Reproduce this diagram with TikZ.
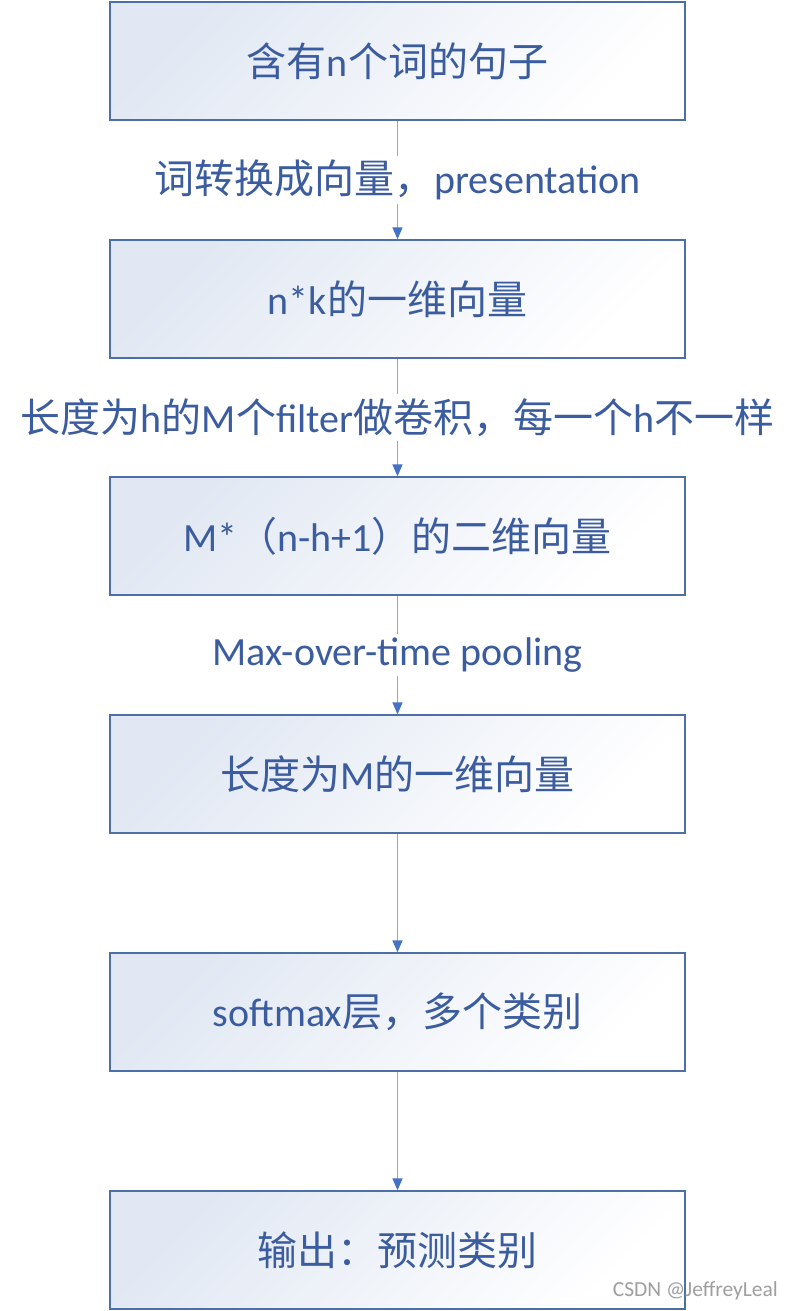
\documentclass[tikz,border=0pt]{standalone}
\usepackage{fontspec}
\setmainfont{Carlito}
\newfontfamily\cjk{Noto Sans CJK SC}
\usetikzlibrary{arrows.meta}
\definecolor{boxline}{HTML}{4E6EA8}
\definecolor{boxtint}{HTML}{E1E8F3}
\definecolor{textblue}{HTML}{3B5C9E}
\definecolor{arrowline}{HTML}{8EA8D8}
\definecolor{arrowhead}{HTML}{4472C4}
\tikzset{
	stepbox/.style={
			draw=boxline,
			line width=1.4pt,
			top color=boxtint,
			bottom color=white,
			shading angle=45,
			minimum width=575pt,
			minimum height=118pt,
			inner sep=0pt,
			text=textblue,
			font=\fontsize{40}{48}\selectfont
		},
	steplabel/.style={
			fill=white,
			text=textblue,
			inner sep=4pt,
			font=\fontsize{40}{48}\selectfont
		},
	flow/.style={
			draw=arrowline,
			line width=1.5pt,
			-{Triangle[length=12pt,width=10pt,color=arrowhead]}
		},
	watermark/.style={
			text=gray!75,
			inner sep=0pt,
			font=\fontsize{21.5}{24}\selectfont
		}
}
\begin{document}
\begin{tikzpicture}[x=1pt, y=-1pt]
\useasboundingbox (0,0) rectangle (794,1311);

\node[stepbox] (b1) at (397.5,61)   {{\cjk 含有}n{\cjk 个词的句子}};
\node[stepbox] (b2) at (397.5,299)  {n*k{\cjk 的一维向量}};
\node[stepbox] (b3) at (397.5,536)  {M*{\cjk （}n-h+1{\cjk ）的二维向量}};
\node[stepbox] (b4) at (397.5,774)  {{\cjk 长度为}M{\cjk 的一维向量}};
\node[stepbox] (b5) at (397.5,1012) {softmax{\cjk 层，多个类别}};
\node[stepbox] (b6) at (397.5,1250) {{\cjk 输出：预测类别}};

\draw[flow] (b1) -- node[steplabel] (l1) {{\cjk 词转换成向量，}presentation} (b2);
\draw[flow] (b2) -- node[steplabel] (l2) {{\cjk 长度为}h{\cjk 的}M{\cjk 个}filter{\cjk 做卷积，每一个}h{\cjk 不一样}} (b3);
\draw[flow] (b3) -- node[steplabel] (l3) {Max-over-time pooling} (b4);
\draw[flow] (b4) -- (b5);
\draw[flow] (b5) -- (b6);

\node[watermark, anchor=east] (wm) at (778,1291) {CSDN @JeffreyLeal};
\end{tikzpicture}
\end{document}
